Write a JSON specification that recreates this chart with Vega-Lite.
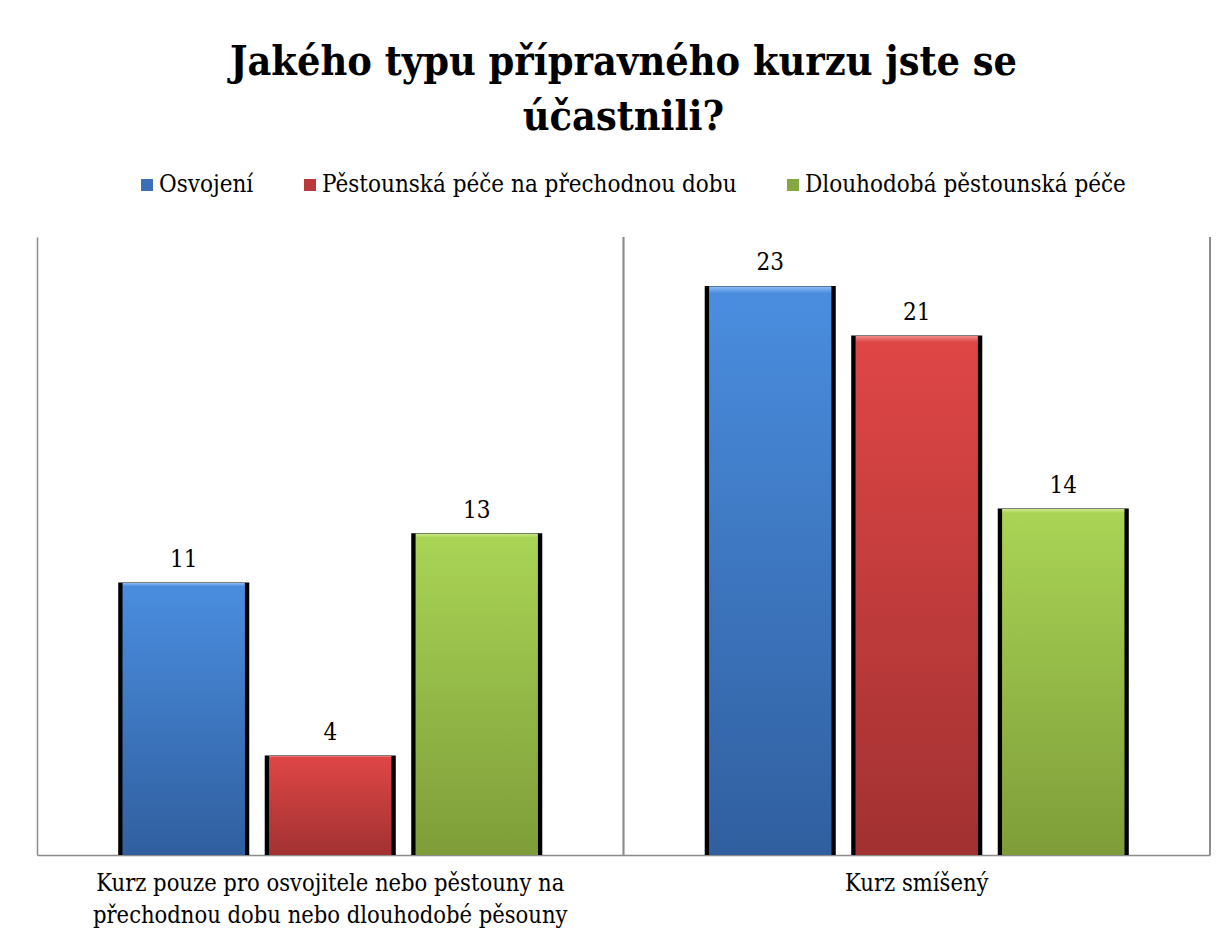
{
  "$schema": "https://vega.github.io/schema/vega-lite/v6.json",
  "width": 1173,
  "height": 618,
  "autosize": {"type": "none"},
  "padding": {"left": 37, "top": 237, "right": 20, "bottom": 86},
  "background": "white",
  "config": {
    "view": {"stroke": null},
    "axisX": {"domainColor": "#8c8c8c", "domainWidth": 1.5, "ticks": false, "grid": false, "labelFontSize": 23.5, "labelFont": "DejaVu Serif Condensed", "labelColor": "black", "labelPadding": 16, "labelLineHeight": 32, "labelAngle": 0, "labelLimit": 0},
    "axisY": {"domainColor": "#8c8c8c", "domainWidth": 1.5, "ticks": false, "grid": false, "labels": false}
  },
  "title": {
    "text": ["Jakého typu přípravného kurzu jste se", "účastnili?"],
    "fontSize": 41,
    "font": "DejaVu Serif Condensed",
    "fontWeight": "bold",
    "color": "black",
    "anchor": "middle",
    "frame": "group",
    "lineHeight": 55,
    "offset": 34
  },
  "data": {
    "values": [
      {"kurz": "Kurz pouze pro osvojitele nebo pěstouny na přechodnou dobu nebo dlouhodobé pěsouny", "serie": "Osvojení", "pocet": 11},
      {"kurz": "Kurz pouze pro osvojitele nebo pěstouny na přechodnou dobu nebo dlouhodobé pěsouny", "serie": "Pěstounská péče na přechodnou dobu", "pocet": 4},
      {"kurz": "Kurz pouze pro osvojitele nebo pěstouny na přechodnou dobu nebo dlouhodobé pěsouny", "serie": "Dlouhodobá pěstounská péče", "pocet": 13},
      {"kurz": "Kurz smíšený", "serie": "Osvojení", "pocet": 23},
      {"kurz": "Kurz smíšený", "serie": "Pěstounská péče na přechodnou dobu", "pocet": 21},
      {"kurz": "Kurz smíšený", "serie": "Dlouhodobá pěstounská péče", "pocet": 14}
    ]
  },
  "layer": [
    {
      "mark": {"type": "rule", "color": "#8c8c8c", "strokeWidth": 1.5},
      "encoding": {
        "x": {"field": "kurz", "type": "nominal", "bandPosition": 1, "sort": ["Kurz pouze pro osvojitele nebo pěstouny na přechodnou dobu nebo dlouhodobé pěsouny", "Kurz smíšený"], "scale": {"paddingInner": 0, "paddingOuter": 0}, "axis": {"title": null, "labelExpr": "datum.value == 'Kurz smíšený' ? datum.value : ['Kurz pouze pro osvojitele nebo pěstouny na', 'přechodnou dobu nebo dlouhodobé pěsouny']"}}
      }
    },
    {
      "mark": {"type": "bar", "color": "black", "stroke": "black", "strokeWidth": 9, "yOffset": 4, "clip": true},
      "encoding": {
        "x": {"field": "kurz", "type": "nominal", "sort": ["Kurz pouze pro osvojitele nebo pěstouny na přechodnou dobu nebo dlouhodobé pěsouny", "Kurz smíšený"], "scale": {"paddingInner": 0, "paddingOuter": 0}, "axis": {"title": null, "labelExpr": "datum.value == 'Kurz smíšený' ? datum.value : ['Kurz pouze pro osvojitele nebo pěstouny na', 'přechodnou dobu nebo dlouhodobé pěsouny']"}},
        "xOffset": {"field": "serie", "type": "nominal", "sort": ["Osvojení", "Pěstounská péče na přechodnou dobu", "Dlouhodobá pěstounská péče"], "scale": {"paddingInner": 0.167, "paddingOuter": 0.585}},
        "y": {"field": "pocet", "type": "quantitative", "scale": {"domain": [0, 25], "nice": false}, "axis": {"title": null}}
      }
    },
    {
      "mark": {"type": "bar"},
      "encoding": {
        "x": {"field": "kurz", "type": "nominal", "sort": ["Kurz pouze pro osvojitele nebo pěstouny na přechodnou dobu nebo dlouhodobé pěsouny", "Kurz smíšený"], "scale": {"paddingInner": 0, "paddingOuter": 0}, "axis": {"title": null, "labelExpr": "datum.value == 'Kurz smíšený' ? datum.value : ['Kurz pouze pro osvojitele nebo pěstouny na', 'přechodnou dobu nebo dlouhodobé pěsouny']"}},
        "xOffset": {"field": "serie", "type": "nominal", "sort": ["Osvojení", "Pěstounská péče na přechodnou dobu", "Dlouhodobá pěstounská péče"], "scale": {"paddingInner": 0.167, "paddingOuter": 0.585}},
        "y": {"field": "pocet", "type": "quantitative", "scale": {"domain": [0, 25], "nice": false}, "axis": {"title": null}},
        "color": {
          "field": "serie", "type": "nominal",
          "sort": ["Osvojení", "Pěstounská péče na přechodnou dobu", "Dlouhodobá pěstounská péče"],
          "scale": {"domain": ["Osvojení", "Pěstounská péče na přechodnou dobu", "Dlouhodobá pěstounská péče"], "range": ["#3b6fb6", "#b83a3a", "#86a842"]},
          "legend": {"orient": "none", "legendX": 98, "legendY": -64, "direction": "horizontal", "title": null, "symbolType": "square", "symbolSize": 144, "symbolStrokeWidth": 0, "labelFontSize": 24, "labelFont": "DejaVu Serif Condensed", "labelColor": "black", "columnPadding": 44, "labelOffset": 0, "labelLimit": 0}
        }
      }
    },
    {
      "transform": [{"filter": "datum.serie == 'Osvojení'"}],
      "mark": {"type": "bar", "fill": {"gradient": "linear", "x1": 0, "y1": 0, "x2": 0, "y2": 1, "stops": [{"offset": 0, "color": "#8fbcf2"}, {"offset": 0.012, "color": "#4a8ddf"}, {"offset": 1, "color": "#305f9f"}]}},
      "encoding": {
        "x": {"field": "kurz", "type": "nominal", "sort": ["Kurz pouze pro osvojitele nebo pěstouny na přechodnou dobu nebo dlouhodobé pěsouny", "Kurz smíšený"], "scale": {"paddingInner": 0, "paddingOuter": 0}, "axis": {"title": null, "labelExpr": "datum.value == 'Kurz smíšený' ? datum.value : ['Kurz pouze pro osvojitele nebo pěstouny na', 'přechodnou dobu nebo dlouhodobé pěsouny']"}},
        "xOffset": {"field": "serie", "type": "nominal", "sort": ["Osvojení", "Pěstounská péče na přechodnou dobu", "Dlouhodobá pěstounská péče"], "scale": {"paddingInner": 0.167, "paddingOuter": 0.585}},
        "y": {"field": "pocet", "type": "quantitative", "scale": {"domain": [0, 25], "nice": false}, "axis": {"title": null}}
      }
    },
    {
      "transform": [{"filter": "datum.serie == 'Pěstounská péče na přechodnou dobu'"}],
      "mark": {"type": "bar", "fill": {"gradient": "linear", "x1": 0, "y1": 0, "x2": 0, "y2": 1, "stops": [{"offset": 0, "color": "#f08c8c"}, {"offset": 0.012, "color": "#df4646"}, {"offset": 1, "color": "#a23131"}]}},
      "encoding": {
        "x": {"field": "kurz", "type": "nominal", "sort": ["Kurz pouze pro osvojitele nebo pěstouny na přechodnou dobu nebo dlouhodobé pěsouny", "Kurz smíšený"], "scale": {"paddingInner": 0, "paddingOuter": 0}, "axis": {"title": null, "labelExpr": "datum.value == 'Kurz smíšený' ? datum.value : ['Kurz pouze pro osvojitele nebo pěstouny na', 'přechodnou dobu nebo dlouhodobé pěsouny']"}},
        "xOffset": {"field": "serie", "type": "nominal", "sort": ["Osvojení", "Pěstounská péče na přechodnou dobu", "Dlouhodobá pěstounská péče"], "scale": {"paddingInner": 0.167, "paddingOuter": 0.585}},
        "y": {"field": "pocet", "type": "quantitative", "scale": {"domain": [0, 25], "nice": false}, "axis": {"title": null}}
      }
    },
    {
      "transform": [{"filter": "datum.serie == 'Dlouhodobá pěstounská péče'"}],
      "mark": {"type": "bar", "fill": {"gradient": "linear", "x1": 0, "y1": 0, "x2": 0, "y2": 1, "stops": [{"offset": 0, "color": "#cdeb8e"}, {"offset": 0.012, "color": "#a9d455"}, {"offset": 1, "color": "#7e9d39"}]}},
      "encoding": {
        "x": {"field": "kurz", "type": "nominal", "sort": ["Kurz pouze pro osvojitele nebo pěstouny na přechodnou dobu nebo dlouhodobé pěsouny", "Kurz smíšený"], "scale": {"paddingInner": 0, "paddingOuter": 0}, "axis": {"title": null, "labelExpr": "datum.value == 'Kurz smíšený' ? datum.value : ['Kurz pouze pro osvojitele nebo pěstouny na', 'přechodnou dobu nebo dlouhodobé pěsouny']"}},
        "xOffset": {"field": "serie", "type": "nominal", "sort": ["Osvojení", "Pěstounská péče na přechodnou dobu", "Dlouhodobá pěstounská péče"], "scale": {"paddingInner": 0.167, "paddingOuter": 0.585}},
        "y": {"field": "pocet", "type": "quantitative", "scale": {"domain": [0, 25], "nice": false}, "axis": {"title": null}}
      }
    },
    {
      "mark": {"type": "text", "baseline": "alphabetic", "dy": -16, "fontSize": 24, "font": "DejaVu Serif Condensed", "color": "black"},
      "encoding": {
        "x": {"field": "kurz", "type": "nominal", "sort": ["Kurz pouze pro osvojitele nebo pěstouny na přechodnou dobu nebo dlouhodobé pěsouny", "Kurz smíšený"], "scale": {"paddingInner": 0, "paddingOuter": 0}, "axis": {"title": null, "labelExpr": "datum.value == 'Kurz smíšený' ? datum.value : ['Kurz pouze pro osvojitele nebo pěstouny na', 'přechodnou dobu nebo dlouhodobé pěsouny']"}},
        "xOffset": {"field": "serie", "type": "nominal", "sort": ["Osvojení", "Pěstounská péče na přechodnou dobu", "Dlouhodobá pěstounská péče"], "scale": {"paddingInner": 0.167, "paddingOuter": 0.585}},
        "y": {"field": "pocet", "type": "quantitative", "scale": {"domain": [0, 25], "nice": false}, "axis": {"title": null}},
        "text": {"field": "pocet", "type": "quantitative"}
      }
    }
  ]
}
